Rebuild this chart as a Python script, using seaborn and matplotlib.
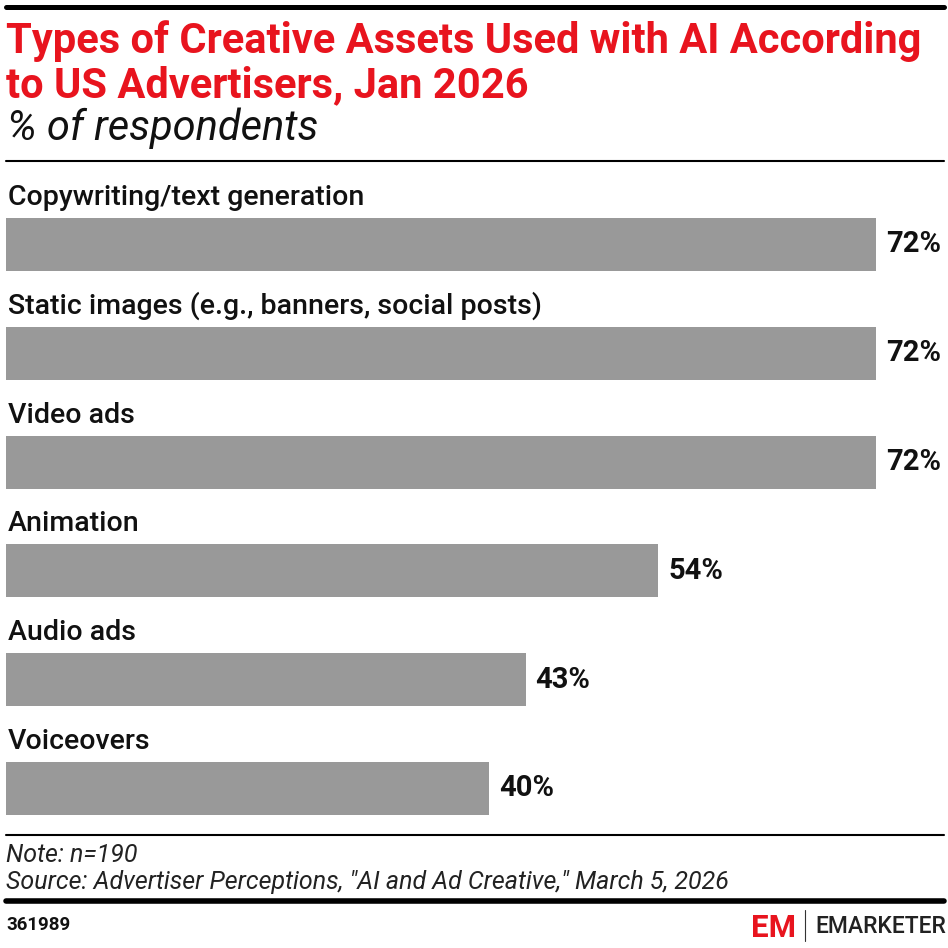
import matplotlib
matplotlib.use("Agg")
import matplotlib.pyplot as plt
import seaborn as sns
import pandas as pd

# chart data
categories = ["Copywriting/text generation",
              "Static images (e.g., banners, social posts)",
              "Video ads",
              "Animation",
              "Audio ads",
              "Voiceovers"]
values = [72, 72, 72, 54, 43, 40]

title_lines = ["Types of Creative Assets Used with AI According",
               "to US Advertisers, Jan 2026"]
subtitle = "% of respondents"
note = "Note: n=190"
source = "Source: Advertiser Perceptions, \"AI and Ad Creative,\" March 5, 2026"
chart_id = "361989"

df = pd.DataFrame({"category": categories, "value": values})

sns.set_theme(style="white")
plt.rcParams["font.family"] = ["Roboto", "DejaVu Sans"]

W = H = 948
fig = plt.figure(figsize=(W / 100, H / 100), dpi=100)
fig.patch.set_facecolor("white")


def fy(px):
    return 1 - px / H


def fx(px):
    return px / W


# axes: x=0 at px 6, 72% at px 876
ax_top, ax_bot = 170, 830
ax = fig.add_axes([fx(6), fy(ax_bot), fx(944) - fx(6), (ax_bot - ax_top) / H])
sns.barplot(data=df, x="value", y="category", orient="h", color="#999999",
            width=0.487, saturation=1, ax=ax, edgecolor="none")

ppu_x = (876 - 6) / 72.0
ax.set_xlim(0, (944 - 6) / ppu_x)
ppu_y = (788.5 - 244.5) / 5
ax.set_ylim(5 + (ax_bot - 788.5) / ppu_y, -(244.5 - ax_top) / ppu_y)
ax.axis("off")

for i, (cat, v) in enumerate(zip(categories, values)):
    ax.text(2 / ppu_x, i - 0.487 / 2 - 13 / ppu_y, cat, fontsize=20.5, fontweight="medium",
            color="#111111", va="baseline", ha="left")
    ax.text(v + 10 / ppu_x, i, f"{v}%", fontsize=21, fontweight="bold",
            color="#111111", va="center", ha="left")

# header
fig.add_artist(plt.Line2D([fx(6), fx(944)], [fy(6.5), fy(6.5)], color="black", lw=3.6))
for k, line in enumerate(title_lines):
    fig.text(fx(6), fy(53 + 44 * k), line, fontsize=30, fontweight="bold", color="#e8141e",
             va="baseline", ha="left")
fig.text(fx(7), fy(140), subtitle, fontsize=30, fontstyle="italic", fontweight="normal",
         color="#111111", va="baseline", ha="left")
fig.add_artist(plt.Line2D([fx(6), fx(944)], [fy(161), fy(161)], color="black", lw=1.5))

# footer
fig.add_artist(plt.Line2D([fx(6), fx(944)], [fy(835), fy(835)], color="black", lw=1.5))
fig.text(fx(6), fy(862), note, fontsize=18, fontstyle="italic", fontweight="normal",
         color="#222222", va="baseline", ha="left")
fig.text(fx(6), fy(889), source, fontsize=18, fontstyle="italic", fontweight="normal",
         color="#222222", va="baseline", ha="left")
fig.add_artist(plt.Line2D([fx(6), fx(944)], [fy(901), fy(901)], color="black", lw=4))
fig.text(fx(6), fy(930), chart_id, fontsize=13.5, fontweight="bold",
         color="#111111", va="baseline", ha="left")

# logo
fig.text(fx(751), fy(937), "EM", fontsize=22.5, fontweight="bold", color="#e8141e",
         va="baseline", ha="left")
fig.add_artist(plt.Line2D([fx(805), fx(805)], [fy(910), fy(941)], color="#333333", lw=0.8))
fig.text(fx(815), fy(933), "EMARKETER", fontsize=16.5, fontweight="medium", color="#222222",
         va="baseline", ha="left")

fig.savefig("out.png", dpi=100, facecolor="white")
